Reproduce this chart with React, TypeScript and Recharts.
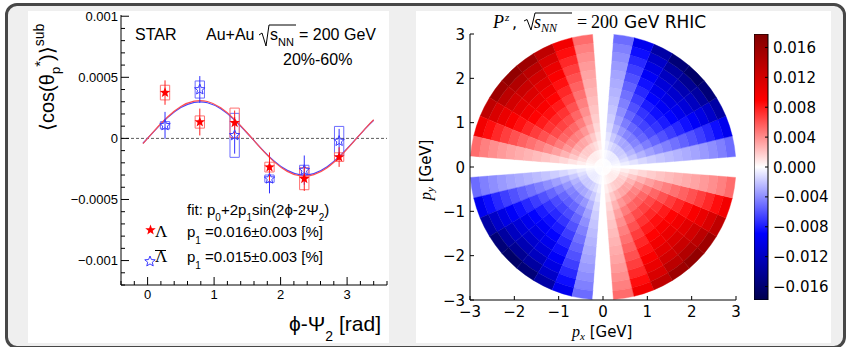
import React from "react";
import {
  Bar,
  BarChart,
  Cell,
  ComposedChart,
  ErrorBar,
  Line,
  Pie,
  PieChart,
  ReferenceArea,
  ReferenceLine,
  Scatter,
  ScatterChart,
  XAxis,
  YAxis,
} from "recharts";

// ---- left panel: STAR data, <cos(theta_p*)>^sub vs phi - Psi_2 ----
const phiBins = [0.262, 0.785, 1.309, 1.833, 2.356, 2.88];
const lamY = [0.000375, 0.000134, 0.000128, -0.000235, -0.00033, -0.000153];
const lamStat = [0.0001, 0.00011, 0.0001, 0.00012, 0.0001, 0.00008];
const lamSys = [0.00006, 0.00005, 0.00012, 0.00004, 0.00009, 0.000035];
const alamY = [0.000107, 0.0004, 0.000025, -0.00033, -0.00026, -0.000022];
const alamStat = [0.00011, 0.00011, 0.00015, 0.00012, 0.00012, 0.0001];
const alamSys = [0.00003, 0.00007, 0.00018, 0.00003, 0.00004, 0.00012];

// fit curves
const fitX = [-0.07, 0.1, 0.3, 0.5, 0.7, 0.9, 1.1, 1.3, 1.5, 1.7, 1.9, 2.1, 2.3, 2.5, 2.7, 2.9, 3.1, 3.3, 3.4];
const fitLam = [
  -0.000043, 0.000062, 0.000175, 0.000261, 0.000305, 0.000302, 0.000251, 0.00016, 0.000044, -0.000079,
  -0.00019, -0.00027, -0.000308, -0.000297, -0.00024, -0.000144, -0.000026, 0.000097, 0.000153,
];
const fitAlam = [
  -0.00004, 0.00006, 0.00017, 0.000252, 0.000295, 0.000292, 0.000242, 0.000155, 0.000042, -0.000077,
  -0.000184, -0.000262, -0.000298, -0.000288, -0.000232, -0.00014, -0.000025, 0.000094, 0.000148,
];

const xTicks = [-0.4, -0.2, 0, 0.2, 0.4, 0.6, 0.8, 1, 1.2, 1.4, 1.6, 1.8, 2, 2.2, 2.4, 2.6, 2.8, 3, 3.2, 3.4, 3.6];
const xMajor = [0, 1, 2, 3];
const yTicks = [
  -0.0012, -0.0011, -0.001, -0.0009, -0.0008, -0.0007, -0.0006, -0.0005, -0.0004, -0.0003, -0.0002, -0.0001,
  0, 0.0001, 0.0002, 0.0003, 0.0004, 0.0005, 0.0006, 0.0007, 0.0008, 0.0009, 0.001,
];
const yMajor = [-0.001, -0.0005, 0, 0.0005, 0.001];
const yMajorLabels = ["\u22120.001", "\u22120.0005", "0", "0.0005", "0.001"];

// ---- right panel: P^z map in (px, py) ----
const pTicks = [-3, -2, -1, 0, 1, 2, 3];
const pLabels = ["\u22123", "\u22122", "\u22121", "0", "1", "2", "3"];
const ringEdges = [0, 0.2, 0.4, 0.6, 0.8, 1.0, 1.2, 1.4, 1.6, 1.8, 2.0, 2.2, 2.4, 2.6, 2.8, 3.0];
const ringAmp = [
  0.0001, 0.0007, 0.0019, 0.0032, 0.0045, 0.0056, 0.0066, 0.0075, 0.0084, 0.0093, 0.0103, 0.0114, 0.0127, 0.0143,
  0.0165,
];
// 40 azimuthal bins of 9 deg, starting at phi = 0
const sectorShape = [
  0, -0.31, -0.59, -0.81, -0.95, -1, -0.95, -0.81, -0.59, -0.31,
  0, 0.31, 0.59, 0.81, 0.95, 1, 0.95, 0.81, 0.59, 0.31,
  0, -0.31, -0.59, -0.81, -0.95, -1, -0.95, -0.81, -0.59, -0.31,
  0, 0.31, 0.59, 0.81, 0.95, 1, 0.95, 0.81, 0.59, 0.31,
];
const cbMin = -0.0178;
const cbMax = 0.0178;
const cbTicks = [0.016, 0.012, 0.008, 0.004, 0, -0.004, -0.008, -0.012, -0.016];
const cbLabels = ["0.016", "0.012", "0.008", "0.004", "0.000", "\u22120.004", "\u22120.008", "\u22120.012", "\u22120.016"];

const ROOT = "'Liberation Sans', Arial, sans-serif";
const MPL = "'DejaVu Sans', sans-serif";
const SERIF = "'Liberation Serif', 'DejaVu Serif', serif";

const PLOT = 266; // right-panel plot box in px
const pxPerGeV = PLOT / 6;

const idx = (arr: number[], v: number) => arr.findIndex((m) => Math.abs(m - v) < 1e-9);

// matplotlib "seismic"
const SEIS = [
  [0, 0, 0, 0.3],
  [0.25, 0, 0, 1],
  [0.5, 1, 1, 1],
  [0.75, 1, 0, 0],
  [1, 0.5, 0, 0],
];
function seismic(v: number) {
  const t = Math.max(0, Math.min(1, (v - cbMin) / (cbMax - cbMin)));
  let i = 0;
  while (i < SEIS.length - 2 && t > SEIS[i + 1][0]) i++;
  const a = SEIS[i];
  const b = SEIS[i + 1];
  const f = (t - a[0]) / (b[0] - a[0]);
  const c = [1, 2, 3].map((k) => Math.round(255 * (a[k] + (b[k] - a[k]) * f)));
  return `rgb(${c[0]},${c[1]},${c[2]})`;
}

function starPoints(cx: number, cy: number, R: number, r: number) {
  const pts: string[] = [];
  for (let i = 0; i < 10; i++) {
    const ang = -Math.PI / 2 + (i * Math.PI) / 5;
    const rad = i % 2 === 0 ? R : r;
    pts.push(`${cx + rad * Math.cos(ang)},${cy + rad * Math.sin(ang)}`);
  }
  return pts.join(" ");
}

const FilledStar = (p: any) => <polygon points={starPoints(p.cx, p.cy, 5.5, 2.3)} fill="#ff0000" />;
const OpenStar = (p: any) => (
  <polygon points={starPoints(p.cx, p.cy, 5.5, 2.4)} fill="none" stroke="#3a3aff" strokeWidth={1} />
);

// left panel ticks (ROOT style, inward)
const LeftYTick = (p: any) => {
  const i = idx(yMajor, p.payload.value);
  const major = i >= 0;
  return (
    <g>
      <line x1={p.x} x2={p.x + (major ? 8 : 4)} y1={p.y} y2={p.y} stroke="#000" />
      {major && (
        <text x={p.x - 3} y={p.y + 4.6} textAnchor="end" fontSize={13} fontFamily={ROOT} fill="#000">
          {yMajorLabels[i]}
        </text>
      )}
    </g>
  );
};
const LeftXTick = (p: any) => {
  const major = idx(xMajor, p.payload.value) >= 0;
  return (
    <g>
      <line x1={p.x} x2={p.x} y1={p.y} y2={p.y - (major ? 8 : 4)} stroke="#000" />
      {major && (
        <text x={p.x} y={p.y + 14} textAnchor="middle" fontSize={13} fontFamily={ROOT} fill="#000">
          {p.payload.value}
        </text>
      )}
    </g>
  );
};

// right panel ticks (matplotlib classic, inward on all sides)
const RBottomTick = (p: any) => (
  <g>
    <line x1={p.x} x2={p.x} y1={p.y} y2={p.y - 4} stroke="#000" />
    <text x={p.x} y={p.y + 17} textAnchor="middle" fontSize={15} fontFamily={MPL} fill="#000">
      {pLabels[idx(pTicks, p.payload.value)]}
    </text>
  </g>
);
const RLeftTick = (p: any) => (
  <g>
    <line x1={p.x} x2={p.x + 4} y1={p.y} y2={p.y} stroke="#000" />
    <text x={p.x - 5} y={p.y + 5.5} textAnchor="end" fontSize={15} fontFamily={MPL} fill="#000">
      {pLabels[idx(pTicks, p.payload.value)]}
    </text>
  </g>
);
const RTopTick = (p: any) => <line x1={p.x} x2={p.x} y1={p.y} y2={p.y + 4} stroke="#000" />;
const RRightTick = (p: any) => <line x1={p.x} x2={p.x - 4} y1={p.y} y2={p.y} stroke="#000" />;
const CbTick = (p: any) => (
  <g>
    <line x1={p.x - 3} x2={p.x} y1={p.y} y2={p.y} stroke="#000" />
    <text x={p.x + 5} y={p.y + 5.5} textAnchor="start" fontSize={15} fontFamily={MPL} fill="#000">
      {cbLabels[idx(cbTicks, p.payload.value)]}
    </text>
  </g>
);

const abs = (l: number, t: number): React.CSSProperties => ({ position: "absolute", left: l, top: t });

export default function App() {
  const lamData = phiBins.map((x, i) => ({ x, y: lamY[i], e: lamStat[i] }));
  const alamData = phiBins.map((x, i) => ({ x, y: alamY[i], e: alamStat[i] }));
  const fitLamData = fitX.map((x, i) => ({ x, y: fitLam[i] }));
  const fitAlamData = fitX.map((x, i) => ({ x, y: fitAlam[i] }));
  const sectorData = sectorShape.map((s) => ({ w: 1, s }));
  const boxHalf = 0.07;

  return (
    <div style={{ position: "absolute", left: 0, top: 0, width: 847, height: 347, background: "#fff", overflow: "hidden" }}>
      <div
        style={{
          ...abs(5, 3),
          width: 841,
          height: 346,
          border: "3px solid #474747",
          borderRadius: 12,
          background: "#efefef",
          boxSizing: "border-box",
        }}
      />
      <div style={{ ...abs(28, 11), width: 361, height: 332, background: "#fff" }} />
      <div style={{ ...abs(416, 11), width: 415, height: 332, background: "#fff" }} />

      {/* left: STAR measurement */}
      <div style={abs(28, 1)}>
        <ComposedChart width={361} height={342} margin={{ top: 14, right: 2, bottom: 0, left: 0 }}>
          <XAxis
            type="number"
            dataKey="x"
            domain={[-0.4, 3.6]}
            ticks={xTicks}
            interval={0}
            allowDataOverflow
            height={58}
            tickLine={false}
            tickSize={0}
            tickMargin={0}
            axisLine={{ stroke: "#000" }}
            tick={(p: any) => <LeftXTick {...p} />}
          />
          <XAxis xAxisId="top" orientation="top" type="number" domain={[-0.4, 3.6]} height={0} tick={false} tickLine={false} axisLine={{ stroke: "#000" }} />
          <YAxis
            type="number"
            domain={[-0.0012, 0.00101]}
            ticks={yTicks}
            interval={0}
            allowDataOverflow
            width={93}
            tickLine={false}
            tickSize={0}
            tickMargin={0}
            axisLine={{ stroke: "#000" }}
            tick={(p: any) => <LeftYTick {...p} />}
          />
          <YAxis yAxisId="right" orientation="right" type="number" domain={[-0.0012, 0.00101]} width={0} tick={false} tickLine={false} axisLine={{ stroke: "#000" }} />
          <ReferenceLine y={0} stroke="#333" strokeDasharray="3 2" strokeWidth={0.8} />
          {phiBins.map((x, i) => (
            <ReferenceArea
              key={"bs" + i}
              x1={x - boxHalf}
              x2={x + boxHalf}
              y1={alamY[i] - alamSys[i]}
              y2={alamY[i] + alamSys[i]}
              fill="none"
              stroke="#6b6bff"
              strokeWidth={1}
              ifOverflow="visible"
            />
          ))}
          {phiBins.map((x, i) => (
            <ReferenceArea
              key={"rs" + i}
              x1={x - boxHalf}
              x2={x + boxHalf}
              y1={lamY[i] - lamSys[i]}
              y2={lamY[i] + lamSys[i]}
              fill="none"
              stroke="#ff7070"
              strokeWidth={1}
              ifOverflow="visible"
            />
          ))}
          <Line data={fitAlamData} dataKey="y" type="natural" stroke="#4646ff" strokeWidth={1.2} dot={false} isAnimationActive={false} />
          <Line data={fitLamData} dataKey="y" type="natural" stroke="#ff5050" strokeWidth={1.2} dot={false} isAnimationActive={false} />
          <Scatter data={alamData} dataKey="y" shape={(p: any) => <OpenStar {...p} />} isAnimationActive={false}>
            <ErrorBar dataKey="e" direction="y" width={0} stroke="#3030ff" strokeWidth={1} />
          </Scatter>
          <Scatter data={lamData} dataKey="y" shape={(p: any) => <FilledStar {...p} />} isAnimationActive={false}>
            <ErrorBar dataKey="e" direction="y" width={0} stroke="#ff2020" strokeWidth={1} />
          </Scatter>
        </ComposedChart>
      </div>

      {/* right: polar P^z map, rings of Pie sectors */}
      <div style={abs(470, 34)}>
        <PieChart width={PLOT} height={PLOT} margin={{ top: 0, right: 0, bottom: 0, left: 0 }}>
          {ringAmp.map((a, j) => (
            <Pie
              key={j}
              data={sectorData}
              dataKey="w"
              cx="50%"
              cy="50%"
              innerRadius={ringEdges[j] * pxPerGeV}
              outerRadius={ringEdges[j + 1] * pxPerGeV}
              startAngle={-4.5}
              endAngle={355.5}
              paddingAngle={0}
              isAnimationActive={false}
            >
              {sectorShape.map((s, k) => (
                <Cell key={k} fill={seismic(s * a)} stroke={seismic(s * a)} strokeWidth={0.4} />
              ))}
            </Pie>
          ))}
        </PieChart>
      </div>

      <div style={abs(416, 11)}>
        <ScatterChart width={415} height={332} margin={{ top: 23, right: 95, bottom: 0, left: 0 }}>
          <XAxis
            type="number"
            dataKey="x"
            domain={[-3, 3]}
            ticks={pTicks}
            interval={0}
            allowDataOverflow
            height={43}
            tickLine={false}
            tickSize={0}
            tickMargin={0}
            axisLine={{ stroke: "#000" }}
            tick={(p: any) => <RBottomTick {...p} />}
          />
          <XAxis
            xAxisId="top"
            orientation="top"
            type="number"
            domain={[-3, 3]}
            ticks={pTicks}
            interval={0}
            height={0}
            tickLine={false}
            tickSize={0}
            tickMargin={0}
            axisLine={{ stroke: "#000" }}
            tick={(p: any) => <RTopTick {...p} />}
          />
          <YAxis
            type="number"
            dataKey="y"
            domain={[-3, 3]}
            ticks={pTicks}
            interval={0}
            allowDataOverflow
            width={54}
            tickLine={false}
            tickSize={0}
            tickMargin={0}
            axisLine={{ stroke: "#000" }}
            tick={(p: any) => <RLeftTick {...p} />}
          />
          <YAxis
            yAxisId="right"
            orientation="right"
            type="number"
            domain={[-3, 3]}
            ticks={pTicks}
            interval={0}
            width={0}
            tickLine={false}
            tickSize={0}
            tickMargin={0}
            axisLine={{ stroke: "#000" }}
            tick={(p: any) => <RRightTick {...p} />}
          />
          <Scatter data={[]} isAnimationActive={false} />
        </ScatterChart>
      </div>

      {/* colour bar */}
      <div style={abs(754, 11)}>
        <BarChart
          width={77}
          height={332}
          data={[{ name: "cb", range: [cbMin, cbMax] }]}
          margin={{ top: 23, right: 0, bottom: 43, left: 0 }}
          barCategoryGap={0}
        >
          <defs>
            <linearGradient id="seis" x1="0" y1="0" x2="0" y2="1">
              <stop offset="0" stopColor="rgb(128,0,0)" />
              <stop offset="0.25" stopColor="rgb(255,0,0)" />
              <stop offset="0.5" stopColor="rgb(255,255,255)" />
              <stop offset="0.75" stopColor="rgb(0,0,255)" />
              <stop offset="1" stopColor="rgb(0,0,77)" />
            </linearGradient>
          </defs>
          <XAxis dataKey="name" hide />
          <YAxis
            orientation="right"
            type="number"
            domain={[cbMin, cbMax]}
            ticks={cbTicks}
            interval={0}
            allowDataOverflow
            width={63}
            tickLine={false}
            tickSize={0}
            tickMargin={0}
            axisLine={false}
            tick={(p: any) => <CbTick {...p} />}
          />
          <Bar dataKey="range" fill="url(#seis)" stroke="#000" strokeWidth={1} isAnimationActive={false} />
        </BarChart>
      </div>

      {/* annotations */}
      <svg width={847} height={347} style={{ ...abs(0, 0), pointerEvents: "none" }}>
        <g fontFamily={ROOT} fill="#000">
          <text x={135} y={40} fontSize={16}>STAR</text>
          <text x={206} y={40} fontSize={16}>Au+Au</text>
          <polyline points="259,35 262,33 266,46 269,25 296,25" fill="none" stroke="#000" strokeWidth={1} />
          <text x={270} y={40} fontSize={16}>s</text>
          <text x={278} y={46} fontSize={11}>NN</text>
          <text x={299} y={40} fontSize={16}>= 200 GeV</text>
          <text x={283} y={65} fontSize={16}>20%-60%</text>

          <text x={187} y={215} fontSize={15}>
            fit: p<tspan dy={6} fontSize={10}>0</tspan>
            <tspan dy={-6}>+2p</tspan>
            <tspan dy={6} fontSize={10}>1</tspan>
            <tspan dy={-6}>sin(2ϕ-2Ψ</tspan>
            <tspan dy={6} fontSize={10}>2</tspan>
            <tspan dy={-6}>)</tspan>
          </text>
          <text x={187} y={237} fontSize={15}>
            p<tspan dy={7} fontSize={10}>1</tspan>
            <tspan dy={-7}> =0.016±0.003 [%]</tspan>
          </text>
          <text x={187} y={262} fontSize={15}>
            p<tspan dy={7} fontSize={10}>1</tspan>
            <tspan dy={-7}> =0.015±0.003 [%]</tspan>
          </text>
          <polygon points={starPoints(150.5, 230, 5.5, 2.3)} fill="#ff0000" />
          <text x={155} y={237} fontSize={17} fontFamily={SERIF}>Λ</text>
          <polygon points={starPoints(150, 261.5, 5.5, 2.4)} fill="none" stroke="#3a3aff" />
          <text x={155} y={262} fontSize={17} fontFamily={SERIF}>Λ</text>
          <line x1={155} x2={166} y1={250.5} y2={250.5} stroke="#000" strokeWidth={1} />

          <text x={289} y={331} fontSize={21}>
            ϕ-Ψ<tspan dy={10} fontSize={14}>2</tspan>
            <tspan dy={-10}> [rad]</tspan>
          </text>
          <text transform="translate(54,131) rotate(-90)" fontSize={20}>
            ⟨cos(θ<tspan dy={6} fontSize={13}>p</tspan>
            <tspan dy={-15} fontSize={15}>*</tspan>
            <tspan dy={9} fontSize={20}>)⟩</tspan>
            <tspan dy={-10} fontSize={14}>sub</tspan>
          </text>
        </g>

        <g fill="#000">
          <text x={493} y={28} fontSize={18} fontFamily={SERIF} fontStyle="italic">P</text>
          <text x={505} y={21} fontSize={11} fontFamily={SERIF} fontStyle="italic">z</text>
          <text x={512} y={28} fontSize={16} fontFamily={MPL}>,</text>
          <polyline points="524,21 527,19.5 531,30 535,13 572,13" fill="none" stroke="#000" strokeWidth={1} />
          <text x={534} y={28} fontSize={18} fontFamily={SERIF} fontStyle="italic">s</text>
          <text x={541} y={32} fontSize={12} fontFamily={SERIF} fontStyle="italic">NN</text>
          <text x={577} y={28} fontSize={18} fontFamily={SERIF}>=</text>
          <text x={591} y={28} fontSize={18} fontFamily={SERIF}>200</text>
          <text x={624} y={28} fontSize={17} fontFamily={MPL}>GeV RHIC</text>

          <text x={572} y={337} fontSize={15} fontFamily={MPL}>
            <tspan fontFamily={SERIF} fontStyle="italic" fontSize={16}>p</tspan>
            <tspan dy={3} fontFamily={SERIF} fontStyle="italic" fontSize={11}>x</tspan>
            <tspan dy={-3}> [GeV]</tspan>
          </text>
          <text transform="translate(431,200) rotate(-90)" fontSize={15} fontFamily={MPL}>
            <tspan fontFamily={SERIF} fontStyle="italic" fontSize={16}>p</tspan>
            <tspan dy={3} fontFamily={SERIF} fontStyle="italic" fontSize={11}>y</tspan>
            <tspan dy={-3}> [GeV]</tspan>
          </text>
        </g>
      </svg>
    </div>
  );
}
